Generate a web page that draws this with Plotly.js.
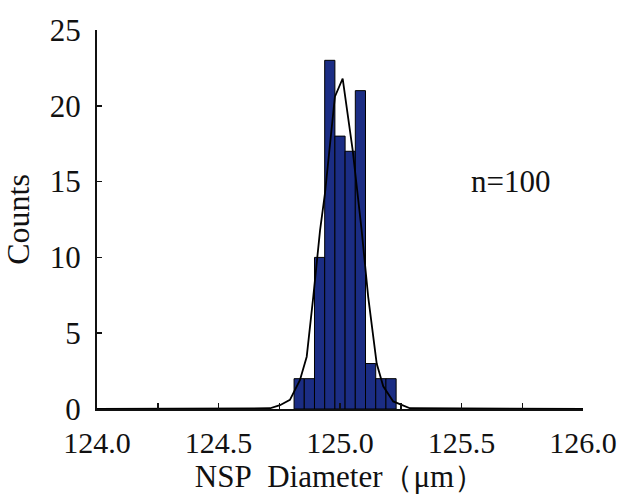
<!DOCTYPE html>
<html>
<head>
<meta charset="utf-8">
<script src="https://cdn.plot.ly/plotly-3.0.1.min.js"></script>
<style>html,body{margin:0;padding:0;background:#fff;}#chart{width:626px;height:495px;}</style>
</head>
<body>
<div id="chart"></div>
<script>
// Histogram bins (µm) and counts
var binCenters = [124.832, 124.874, 124.916, 124.958, 125.000, 125.042, 125.084, 125.126, 125.168, 125.210];
var counts     = [2, 2, 10, 23, 18, 17, 21, 3, 2, 2];
var binWidth   = 0.042;

// Fitted curve
var curveX = [124.0, 124.712, 124.753, 124.794, 124.835, 124.863, 124.890, 124.918, 124.938, 124.979, 125.011, 125.052, 125.089, 125.116, 125.151, 125.178, 125.219, 125.254, 125.288, 126.0];
var curveY = [0, 0.05, 0.25, 0.6, 1.9, 3.45, 7.4, 11.8, 14.2, 20.6, 21.8, 17.1, 11.8, 7.4, 3.0, 1.5, 0.5, 0.26, 0.05, 0];

var xTickVals = [124.0, 124.5, 125.0, 125.5, 126.0];
var yTickVals = [0, 5, 10, 15, 20, 25];
var noteText = "n=100";
var xTitle = "NSP&nbsp; Diameter（μm）";
var yTitle = "Counts";

var serif = "Liberation Serif, Times New Roman, serif";

var traces = [
  {
    type: "bar",
    x: binCenters,
    y: counts,
    width: binWidth,
    marker: {color: "#1b2d84", line: {color: "#000000", width: 1}},
    hoverinfo: "x+y"
  },
  {
    type: "scatter",
    mode: "lines",
    x: curveX,
    y: curveY,
    line: {color: "#000000", width: 1.8},
    hoverinfo: "skip"
  }
];

var layout = {
  width: 626,
  height: 495,
  margin: {l: 97, r: 43, t: 30, b: 86},
  paper_bgcolor: "#ffffff",
  plot_bgcolor: "#ffffff",
  showlegend: false,
  bargap: 0,
  font: {family: serif, size: 30, color: "#111111"},
  xaxis: {
    range: [124, 126],
    tickvals: xTickVals,
    tickformat: ".1f",
    ticks: "inside",
    ticklen: 6,
    tickwidth: 1.5,
    tickcolor: "#111",
    ticklabelstandoff: 6,
    minor: {dtick: 0.25, ticks: "inside", ticklen: 6, tickwidth: 1.5, tickcolor: "#111"},
    showline: true,
    linecolor: "#111",
    linewidth: 2,
    showgrid: false,
    zeroline: false,
    tickfont: {family: serif, size: 30, color: "#111"},
    title: {text: xTitle, font: {family: serif, size: 31, color: "#111"}, standoff: 6}
  },
  yaxis: {
    range: [0, 25],
    tickvals: yTickVals,
    ticks: "inside",
    ticklen: 5,
    tickwidth: 1.5,
    tickcolor: "#111",
    ticklabelstandoff: 8,
    showline: true,
    linecolor: "#111",
    linewidth: 2,
    showgrid: false,
    zeroline: false,
    tickfont: {family: serif, size: 31, color: "#111"},
    title: {text: yTitle, font: {family: serif, size: 32, color: "#111"}, standoff: 12}
  },
  annotations: [
    {x: 125.70, y: 15, xref: "x", yref: "y", text: noteText, showarrow: false,
     font: {family: serif, size: 31, color: "#111"}}
  ]
};

Plotly.newPlot("chart", traces, layout, {displayModeBar: false, staticPlot: true});
</script>
</body>
</html>
